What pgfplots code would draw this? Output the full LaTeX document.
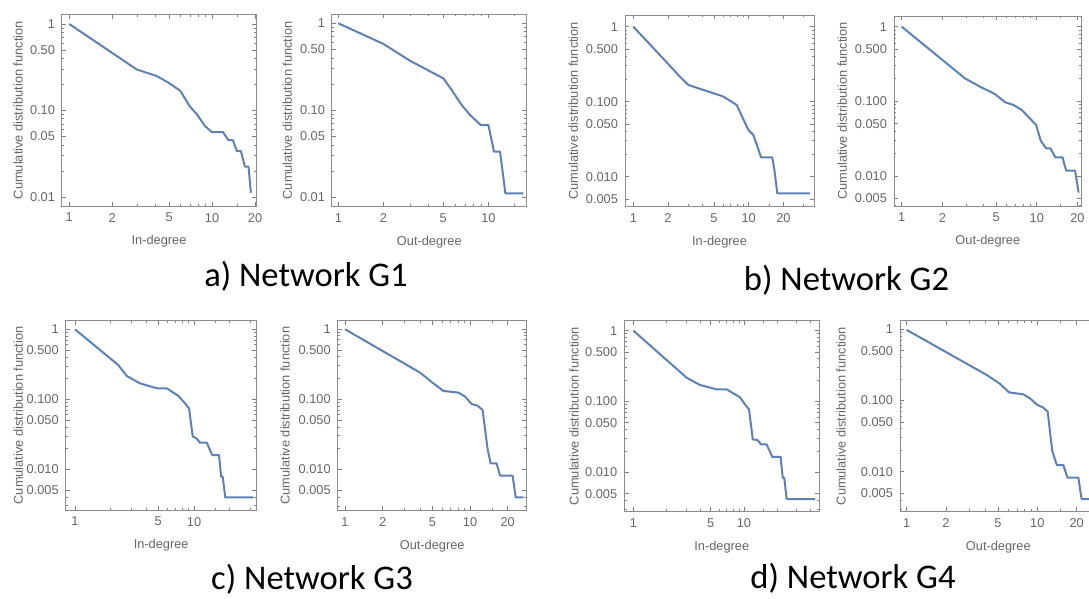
\documentclass[border=0pt]{standalone}
\usepackage{fontspec}
\setmainfont{Liberation Sans}
\newfontfamily\capfont{Carlito}
\usepackage{pgfplots}
\pgfplotsset{compat=1.18}
\definecolor{mmablue}{RGB}{94,129,181}

\pgfplotsset{
  every axis/.append style={
    xmode=log, ymode=log, scale only axis, anchor=north west,
    axis line style={draw=black!45, line width=0.5pt},
    tick align=inside, major tick length=2.2pt, minor tick length=1.2pt,
    every tick/.append style={draw=black!50, line width=0.4pt},
    tick label style={font=\fontsize{6.4}{7.5}\selectfont, text=black!60},
    label style={font=\fontsize{6.4}{7.5}\selectfont, text=black!60},
    ylabel={Cumulative distribution function},
    xlabel style={at={(axis description cs:0.5,0)}, anchor=center, yshift=-17.5pt},
  },
}

\begin{document}
\begin{tikzpicture}
\path (0,0) rectangle (544.5pt,-299.5pt);

% a) Network G1
\begin{axis}[at={(31pt,-7.15pt)}, width=97pt, height=95.85pt,
  xmin=0.889, xmax=20.3, ymin=0.00787, ymax=1.295, xlabel={In-degree},
  xtick={1,2,5,10,20}, xticklabels={1,2,5,10,20}, minor xtick={3,4,6,7,8,9,15},
  ytick={0.01,0.05,0.1,0.5,1}, yticklabels={0.01,0.05,0.10,0.50,1},
  minor ytick={0.02,0.03,0.04,0.06,0.07,0.08,0.09,0.2,0.3,0.4,0.6,0.7,0.8,0.9},
  ylabel style={at={(axis description cs:-0.227,0.5)}, anchor=center}]
\addplot[color=mmablue, line width=1pt, line join=round] coordinates {(1,1) (2.96,0.299) (4.1,0.25) (4.94,0.21) (5.97,0.170)
  (7.0,0.111) (7.8,0.091) (8.93,0.066) (9.95,0.0564) (11.9,0.0564) (13.0,0.0456)
  (13.96,0.0456) (14.9,0.034) (15.9,0.034) (17.0,0.0224) (18.0,0.0224) (18.7,0.0112)};
\end{axis}
\begin{axis}[at={(166pt,-7pt)}, width=97.35pt, height=96.35pt,
  xmin=0.907, xmax=18.0, ymin=0.00781, ymax=1.28, xlabel={Out-degree},
  xtick={1,2,5,10}, xticklabels={1,2,5,10}, minor xtick={3,4,6,7,8,9,15},
  ytick={0.01,0.05,0.1,0.5,1}, yticklabels={0.01,0.05,0.10,0.50,1},
  minor ytick={0.02,0.03,0.04,0.06,0.07,0.08,0.09,0.2,0.3,0.4,0.6,0.7,0.8,0.9},
  ylabel style={at={(axis description cs:-0.230,0.5)}, anchor=center}]
\addplot[color=mmablue, line width=1pt, line join=round] coordinates {(1,1) (2,0.579) (3,0.372) (5.01,0.233) (5.7,0.171)
  (6.64,0.115) (7.55,0.0884) (8.89,0.0678) (10,0.0678) (10.9,0.0335) (11.96,0.0335)
  (12.98,0.0111) (17.1,0.0111)};
\end{axis}

% b) Network G2
\begin{axis}[at={(312.5pt,-7.5pt)}, width=94.5pt, height=95.85pt,
  xmin=0.847, xmax=36.8, ymin=0.00398, ymax=1.43, xlabel={In-degree},
  xtick={1,2,5,10,20}, xticklabels={1,2,5,10,20}, minor xtick={3,4,6,7,8,9,15,30},
  ytick={0.005,0.01,0.05,0.1,0.5,1}, yticklabels={0.005,0.010,0.050,0.100,0.500,1},
  minor ytick={0.003,0.004,0.02,0.03,0.04,0.06,0.07,0.08,0.09,0.2,0.3,0.4,0.6,0.7,0.8,0.9},
  ylabel style={at={(axis description cs:-0.274,0.5)}, anchor=center}]
\addplot[color=mmablue, line width=1pt, line join=round] coordinates {(1,1) (2,0.32) (2.5,0.22) (3.0,0.167) (6.03,0.117)
  (7.87,0.0903) (9.93,0.0419) (10.97,0.036) (12.8,0.0181) (16.0,0.0181) (16.7,0.0123)
  (17.7,0.006) (34,0.006)};
\end{axis}
\begin{axis}[at={(447pt,-8pt)}, width=93.85pt, height=95pt,
  xmin=0.877, xmax=21.5, ymin=0.00396, ymax=1.39, xlabel={Out-degree},
  xtick={1,2,5,10,20}, xticklabels={1,2,5,10,20}, minor xtick={3,4,6,7,8,9,15},
  ytick={0.005,0.01,0.05,0.1,0.5,1}, yticklabels={0.005,0.010,0.050,0.100,0.500,1},
  minor ytick={0.004,0.02,0.03,0.04,0.06,0.07,0.08,0.09,0.2,0.3,0.4,0.6,0.7,0.8,0.9},
  ylabel style={at={(axis description cs:-0.275,0.5)}, anchor=center}]
\addplot[color=mmablue, line width=1pt, line join=round] coordinates {(1,1) (2.94,0.203) (3.8,0.157) (4.91,0.125) (5.83,0.097)
  (6.72,0.0893) (7.74,0.0766) (9.89,0.0482) (10.7,0.0297) (11.7,0.0235) (12.6,0.0235)
  (13.7,0.0178) (15.5,0.0178) (16.5,0.0118) (19.2,0.0118) (20.4,0.00598)};
\end{axis}

% c) Network G3
\begin{axis}[at={(32.85pt,-160.35pt)}, width=95.5pt, height=94.65pt,
  xmin=0.835, xmax=33.6, ymin=0.00262, ymax=1.33, xlabel={In-degree},
  xtick={1,5,10}, xticklabels={1,5,10}, minor xtick={2,3,4,6,7,8,9,15,20,30},
  ytick={0.005,0.01,0.05,0.1,0.5,1}, yticklabels={0.005,0.010,0.050,0.100,0.500,1},
  minor ytick={0.003,0.004,0.02,0.03,0.04,0.06,0.07,0.08,0.09,0.2,0.3,0.4,0.6,0.7,0.8,0.9},
  ylabel style={at={(axis description cs:-0.248,0.5)}, anchor=center}]
\addplot[color=mmablue, line width=1pt, line join=round] coordinates {(1,1) (2.31,0.309) (2.72,0.216) (3.52,0.169) (4.86,0.144)
  (5.89,0.144) (7.38,0.112) (8.4,0.0877) (9.08,0.0744) (9.75,0.0293) (10.5,0.0277)
  (11.2,0.024) (12.8,0.024) (14.2,0.016) (16.2,0.016) (16.9,0.00785) (17.4,0.00785)
  (18.3,0.00398) (31.5,0.00398)};
\end{axis}
\begin{axis}[at={(168.85pt,-160.35pt)}, width=94.5pt, height=95pt,
  xmin=0.874, xmax=28.4, ymin=0.00258, ymax=1.31, xlabel={Out-degree},
  xtick={1,2,5,10,20}, xticklabels={1,2,5,10,20}, minor xtick={3,4,6,7,8,9,15},
  ytick={0.005,0.01,0.05,0.1,0.5,1}, yticklabels={0.005,0.010,0.050,0.100,0.500,1},
  minor ytick={0.003,0.004,0.02,0.03,0.04,0.06,0.07,0.08,0.09,0.2,0.3,0.4,0.6,0.7,0.8,0.9},
  ylabel style={at={(axis description cs:-0.279,0.5)}, anchor=center}]
\addplot[color=mmablue, line width=1pt, line join=round] coordinates {(1,0.99) (3.98,0.239) (5.09,0.168) (6.12,0.131)
  (8.07,0.124) (9.12,0.109) (10.3,0.0853) (11.5,0.0807) (12.6,0.0701) (13.8,0.0199)
  (14.6,0.0122) (16.3,0.0122) (17.4,0.00813) (21.9,0.00813) (23.2,0.00399) (26.7,0.00399)};
\end{axis}

% d) Network G4
\begin{axis}[at={(312.15pt,-160.35pt)}, width=97.5pt, height=95.5pt,
  xmin=0.829, xmax=47.9, ymin=0.00279, ymax=1.38, xlabel={In-degree},
  xtick={1,5,10}, xticklabels={1,5,10}, minor xtick={2,3,4,6,7,8,9,15,20,30,40},
  ytick={0.005,0.01,0.05,0.1,0.5,1}, yticklabels={0.005,0.010,0.050,0.100,0.500,1},
  minor ytick={0.003,0.004,0.02,0.03,0.04,0.06,0.07,0.08,0.09,0.2,0.3,0.4,0.6,0.7,0.8,0.9},
  ylabel style={at={(axis description cs:-0.258,0.5)}, anchor=center}]
\addplot[color=mmablue, line width=1pt, line join=round] coordinates {(1,1) (3.03,0.217) (4.0,0.171) (5.66,0.1485) (6.97,0.1485)
  (9.2,0.1146) (10.2,0.0912) (11.1,0.0775) (12.0,0.0292) (13.3,0.0286) (14.2,0.0249)
  (16.0,0.0249) (18.0,0.0166) (21.4,0.0166) (22.4,0.0084) (23.1,0.0084) (24.3,0.0042)
  (43.8,0.0042)};
\end{axis}
\begin{axis}[at={(450pt,-160.35pt)}, width=98.3pt, height=95.5pt,
  xmin=0.889, xmax=28.4, ymin=0.00274, ymax=1.32, xlabel={Out-degree},
  xtick={1,2,5,10,20}, xticklabels={1,2,5,10,20}, minor xtick={3,4,6,7,8,9,15},
  ytick={0.005,0.01,0.05,0.1,0.5,1}, yticklabels={0.005,0.010,0.050,0.100,0.500,1},
  minor ytick={0.003,0.004,0.02,0.03,0.04,0.06,0.07,0.08,0.09,0.2,0.3,0.4,0.6,0.7,0.8,0.9},
  ylabel style={at={(axis description cs:-0.300,0.5)}, anchor=center}]
\addplot[color=mmablue, line width=1pt, line join=round] coordinates {(1,0.98) (4.1,0.228) (5.18,0.171) (6.07,0.130)
  (7.81,0.122) (8.79,0.107) (10.0,0.0865) (11.0,0.0802) (12.0,0.0697) (13.0,0.0195)
  (14.1,0.0124) (15.8,0.0124) (17.0,0.00824) (20.6,0.00824) (21.8,0.00413) (27,0.00413)};
\end{axis}

\node[anchor=base, font=\capfont\fontsize{17.3}{20}\selectfont] at (153pt,-143pt) {a) Network G1};
\node[anchor=base, font=\capfont\fontsize{17.3}{20}\selectfont] at (423.25pt,-145.5pt) {b) Network G2};
\node[anchor=base, font=\capfont\fontsize{17.3}{20}\selectfont] at (156pt,-294.5pt) {c) Network G3};
\node[anchor=base, font=\capfont\fontsize{17.3}{20}\selectfont] at (426.5pt,-294pt) {d) Network G4};

\pgfresetboundingbox
\path[use as bounding box] (0,0) rectangle (544.5pt,-299.5pt);
\end{tikzpicture}
\end{document}
